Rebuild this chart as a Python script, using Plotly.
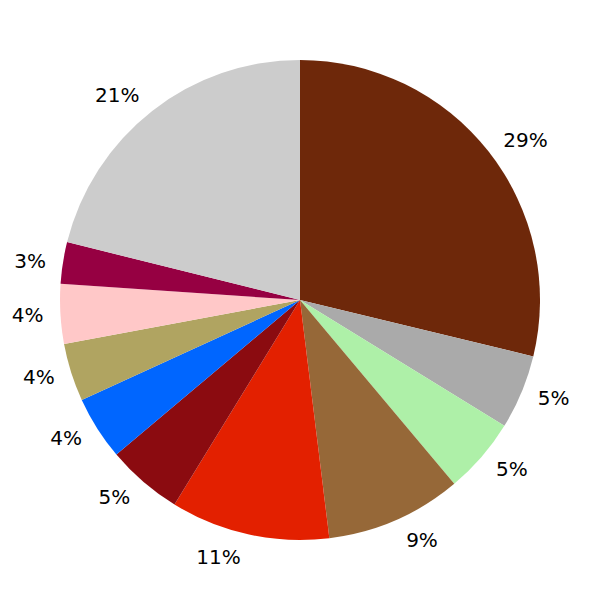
import plotly.graph_objects as go

labels = ["A", "B", "C", "D", "E", "F", "G", "H", "I", "J", "K"]
values = [28.75, 5.0, 5.1, 9.15, 10.7, 5.1, 4.3, 3.9, 4.0, 2.8, 21.1]
colors = ["#6E280A", "#AAAAAA", "#AEF0A8", "#966838", "#E32000", "#8B0B10",
          "#0066FF", "#B0A461", "#FFC8C8", "#960042", "#CCCCCC"]

pie_dom = [20 / 520, 500 / 520]
label_dom = [9 / 520, 511 / 520]

fig = go.Figure()
fig.add_trace(go.Pie(
    labels=labels,
    values=values,
    sort=False,
    direction="clockwise",
    rotation=0,
    marker=dict(colors=colors, line=dict(width=0)),
    textinfo="none",
    showlegend=False,
    domain=dict(x=pie_dom, y=pie_dom),
))
fig.add_trace(go.Pie(
    labels=labels,
    values=values,
    sort=False,
    direction="clockwise",
    rotation=0,
    marker=dict(colors=["rgba(0,0,0,0)"] * len(values), line=dict(width=0)),
    textinfo="percent",
    textposition="outside",
    texttemplate="%{percent:.0%}",
    outsidetextfont=dict(family="DejaVu Sans", size=20, color="#000000"),
    showlegend=False,
    hoverinfo="skip",
    domain=dict(x=label_dom, y=label_dom),
))
fig.update_layout(
    width=600, height=600,
    margin=dict(l=32, r=48, t=32, b=48),
    paper_bgcolor="white",
    plot_bgcolor="white",
)
fig.write_html("out.html")
